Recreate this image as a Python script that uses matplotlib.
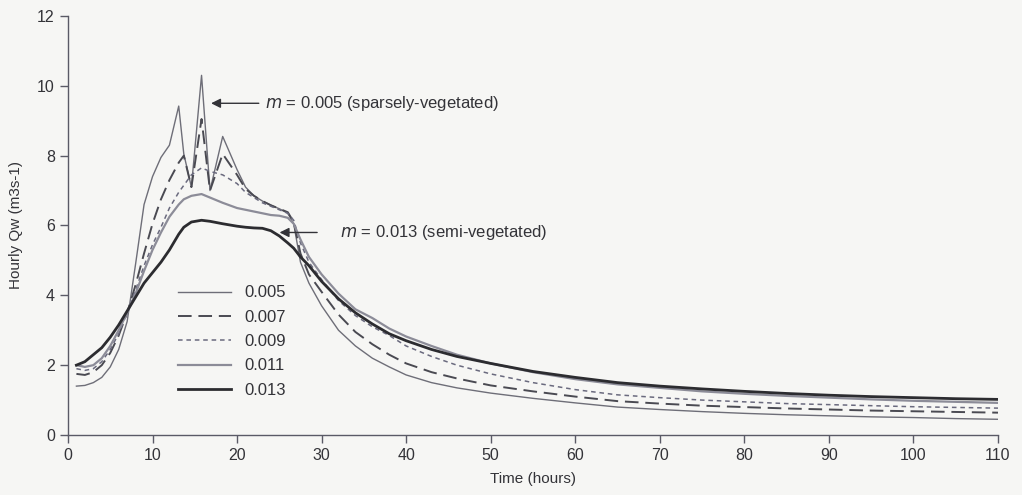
import matplotlib
matplotlib.use("Agg")
import matplotlib.pyplot as plt

plt.rcParams['font.family'] = ['Liberation Sans', 'DejaVu Sans']

# hydrograph sample times (hours)
hours = [1, 2, 3, 4, 5, 6, 7, 8, 9, 10, 11, 12,
         13.1, 13.7, 14.6, 15.8, 16.8, 18.3,
         20, 21, 22, 23, 24, 25, 26, 26.7, 27.5, 28.5, 30,
         32, 34, 36, 38, 40, 43, 46, 50,
         55, 60, 65, 70, 75, 80, 85, 90, 95, 100, 105, 110]

# hourly discharge for each Manning roughness value
q_005 = [1.40, 1.42, 1.50, 1.65, 1.95, 2.45, 3.25, 4.90, 6.60, 7.40, 7.95, 8.30,
         9.42, 8.05, 7.10, 10.30, 7.00, 8.55,
         7.60, 7.10, 6.85, 6.70, 6.58, 6.48, 6.35, 6.05, 4.95, 4.35, 3.70,
         3.00, 2.55, 2.20, 1.95, 1.72, 1.50, 1.35, 1.20,
         1.05, 0.92, 0.80, 0.73, 0.67, 0.62, 0.58, 0.55, 0.52, 0.50, 0.47, 0.45]
q_007 = [1.75, 1.72, 1.80, 2.00, 2.35, 2.85, 3.50, 4.30, 5.20, 6.05, 6.75, 7.30,
         7.80, 8.00, 7.10, 9.05, 7.00, 8.05,
         7.45, 7.05, 6.85, 6.70, 6.58, 6.48, 6.38, 6.10, 5.20, 4.60, 4.10,
         3.45, 2.95, 2.60, 2.30, 2.05, 1.80, 1.62, 1.42,
         1.25, 1.10, 0.97, 0.90, 0.84, 0.80, 0.76, 0.73, 0.70, 0.68, 0.66, 0.64]
q_009 = [1.90, 1.85, 1.90, 2.10, 2.45, 2.90, 3.50, 4.15, 4.85, 5.45, 5.95, 6.50,
         6.95, 7.15, 7.45, 7.65, 7.55, 7.45,
         7.20, 6.95, 6.80, 6.65, 6.55, 6.45, 6.35, 6.15, 5.50, 4.95, 4.45,
         3.85, 3.42, 3.10, 2.85, 2.55, 2.25, 2.00, 1.75,
         1.50, 1.30, 1.15, 1.07, 1.00, 0.95, 0.90, 0.87, 0.84, 0.81, 0.79, 0.77]
q_011 = [2.00, 1.95, 2.00, 2.20, 2.55, 3.00, 3.50, 4.05, 4.70, 5.30, 5.80, 6.25,
         6.60, 6.75, 6.85, 6.90, 6.80, 6.65,
         6.50, 6.45, 6.40, 6.35, 6.30, 6.28, 6.22, 6.05, 5.60, 5.10, 4.60,
         4.05, 3.60, 3.35, 3.05, 2.82, 2.55, 2.30, 2.05,
         1.80, 1.60, 1.45, 1.35, 1.25, 1.18, 1.12, 1.07, 1.02, 0.98, 0.95, 0.92]
q_013 = [2.00, 2.10, 2.30, 2.50, 2.80, 3.15, 3.55, 3.95, 4.35, 4.65, 4.95, 5.30,
         5.75, 5.95, 6.10, 6.15, 6.12, 6.05,
         5.98, 5.95, 5.93, 5.92, 5.85, 5.70, 5.50, 5.35, 5.10, 4.85, 4.40,
         3.90, 3.50, 3.18, 2.90, 2.70, 2.45, 2.25, 2.05,
         1.82, 1.65, 1.50, 1.40, 1.32, 1.25, 1.19, 1.14, 1.10, 1.07, 1.04, 1.02]

labels = ['0.005', '0.007', '0.009', '0.011', '0.013']
series = [q_005, q_007, q_009, q_011, q_013]
styles = [
    dict(color='#6e6e78', lw=1.0, ls='-'),
    dict(color='#4a4a52', lw=1.4, ls=(0, (7, 3.5))),
    dict(color='#6a6a7e', lw=1.1, ls=(0, (3, 2.5))),
    dict(color='#8c8c98', lw=1.6, ls='-'),
    dict(color='#2c2c30', lw=2.0, ls='-'),
]
txt = '#333338'

fig = plt.figure(figsize=(10.22, 4.95), dpi=100, facecolor='#f6f6f4')
ax = fig.add_axes([0.0665, 0.1212, 0.91, 0.8465])
ax.set_facecolor('#f6f6f4')

for vals, lab, st in zip(series, labels, styles):
    ax.plot(hours, vals, label=lab, **st)

ax.set_xlim(0, 110)
ax.set_ylim(0, 12)
ax.set_xticks(range(0, 111, 10))
ax.set_yticks(range(0, 13, 2))
for side in ('top', 'right'):
    ax.spines[side].set_visible(False)
for side in ('left', 'bottom'):
    ax.spines[side].set_color('#5a5a66')
    ax.spines[side].set_linewidth(1.0)
ax.tick_params(direction='out', length=6, width=1.0, color='#5a5a66',
               labelsize=11.5, labelcolor=txt)

ax.set_xlabel('Time (hours)', fontsize=11, color=txt, labelpad=6)
ax.set_ylabel('Hourly Qw (m3s-1)', fontsize=11, color=txt, labelpad=10)

leg = ax.legend(loc='upper left', bbox_to_anchor=(0.118, 0.357), frameon=False,
                handlelength=3.2, handletextpad=0.8, labelspacing=0.56,
                fontsize=12, borderaxespad=0, borderpad=0)
for t in leg.get_texts():
    t.set_color(txt)

# callouts for the two extreme roughness cases
arrow = dict(arrowstyle='-|>', color=txt, lw=1.0, mutation_scale=14)
ax.annotate('', xy=(16.6, 9.5), xytext=(22.9, 9.5), arrowprops=arrow)
ax.text(23.3, 9.5, r'$m$ = 0.005 (sparsely-vegetated)', fontsize=12,
        color=txt, va='center', ha='left')
ax.annotate('', xy=(24.7, 5.8), xytext=(29.8, 5.8), arrowprops=arrow)
ax.text(32.2, 5.8, r'$m$ = 0.013 (semi-vegetated)', fontsize=12,
        color=txt, va='center', ha='left')

fig.savefig('out.png', dpi=100, facecolor=fig.get_facecolor())
